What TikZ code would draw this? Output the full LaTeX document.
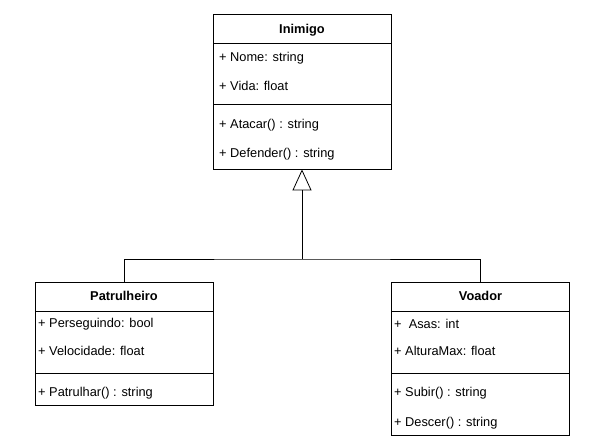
\documentclass[tikz,border=0pt]{standalone}
\usepackage{fontspec}
\setmainfont{Liberation Sans}
\usetikzlibrary{arrows.meta}

\begin{document}
\begin{tikzpicture}[x=1pt, y=-1pt, >=Latex]

% styles
\tikzset{
  classbox/.style={draw, line width=0.8pt, minimum width=178pt, inner sep=0pt},
  classname/.style={font=\bfseries\fontsize{12.8}{15}\selectfont, text height=9pt, text depth=2.5pt, inner sep=0pt},
  member/.style={anchor=west, font=\fontsize{12.8}{15}\selectfont, text height=9pt, text depth=2.5pt, inner sep=0pt},
  divider/.style={line width=0.8pt},
  inherit/.style={-{Triangle[open, length=21pt, width=19pt]}, line width=0.8pt},
}

% page
\useasboundingbox (0,0) rectangle (611,445);

% superclass
\node[classbox, minimum height=155pt] (inimigo) at (302,91.5) {};
\draw[divider] (213,43) -- (391,43);
\draw[divider] (213,104) -- (391,104);
\node[classname] (inimigoT) at (302,30) {Inimigo};
\node[member] (nome) at (219,58.5) {+ Nome: string};
\node[member] (vida) at (219,87.5) {+ Vida: float};
\node[member] (atacar) at (219,125.5) {+ Atacar() : string};
\node[member] (defender) at (219,154.5) {+ Defender() : string};

% subclass left
\node[classbox, minimum height=123pt] (patrulheiro) at (124,343.5) {};
\draw[divider] (35,311) -- (213,311);
\draw[divider] (35,373) -- (213,373);
\node[classname] (patrulheiroT) at (124,297.5) {Patrulheiro};
\node[member] (perseguindo) at (38,324.5) {+ Perseguindo: bool};
\node[member] (velocidade) at (38,352.5) {+ Velocidade: float};
\node[member] (patrulhar) at (38,393.5) {+ Patrulhar() : string};

% subclass right
\node[classbox, minimum height=153pt] (voador) at (480.5,358.5) {};
\draw[divider] (391.5,311) -- (569.5,311);
\draw[divider] (391.5,373) -- (569.5,373);
\node[classname] (voadorT) at (480.5,297.5) {Voador};
\node[member] (asas) at (394,325.5) {+ \ Asas: int};
\node[member] (alturamax) at (394,352.5) {+ AlturaMax: float};
\node[member] (subir) at (394,393.5) {+ Subir() : string};
\node[member] (descer) at (394,423.5) {+ Descer() : string};

% generalization
\coordinate (join) at (302,259);
\draw[inherit] (join) -- (inimigo.south);
\draw[divider] (patrulheiro.north) |- (join) -| (voador.north);

\end{tikzpicture}
\end{document}
